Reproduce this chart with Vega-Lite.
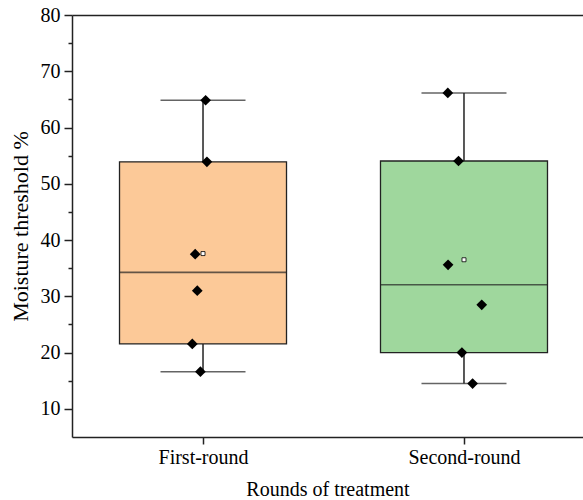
{
  "$schema": "https://vega.github.io/schema/vega-lite/v6.json",
  "width": 511,
  "height": 422,
  "autosize": {"type": "none"},
  "padding": {"left": 72, "top": 15, "right": 0, "bottom": 63},
  "config": {
    "view": {"stroke": null},
    "font": "Liberation Serif",
    "axis": {
      "domainColor": "#222222",
      "domainWidth": 1.5,
      "tickColor": "#222222",
      "tickWidth": 1.5,
      "labelColor": "black",
      "titleColor": "black",
      "labelFont": "Liberation Serif",
      "titleFont": "Liberation Serif",
      "labelFontSize": 20,
      "titleFontSize": 20,
      "titleFontWeight": "normal",
      "grid": false
    }
  },
  "resolve": {"axis": {"y": "independent"}},
  "datasets": {
    "stats": [
      {"round": "First-round", "min": 16.6, "q1": 21.55, "median": 34.25, "q3": 53.9, "max": 64.85, "mean": 37.6},
      {"round": "Second-round", "min": 14.5, "q1": 20.0, "median": 32.05, "q3": 54.05, "max": 66.15, "mean": 36.5}
    ],
    "points": [
      {"round": "First-round", "value": 64.85, "jitter": 0.01},
      {"round": "First-round", "value": 53.9, "jitter": 0.015},
      {"round": "First-round", "value": 37.5, "jitter": -0.03},
      {"round": "First-round", "value": 31.0, "jitter": -0.022},
      {"round": "First-round", "value": 21.55, "jitter": -0.041},
      {"round": "First-round", "value": 16.6, "jitter": -0.01},
      {"round": "Second-round", "value": 66.15, "jitter": -0.062},
      {"round": "Second-round", "value": 54.05, "jitter": -0.021},
      {"round": "Second-round", "value": 35.6, "jitter": -0.061},
      {"round": "Second-round", "value": 28.5, "jitter": 0.068},
      {"round": "Second-round", "value": 20.0, "jitter": -0.008},
      {"round": "Second-round", "value": 14.5, "jitter": 0.033}
    ]
  },
  "layer": [
    {
      "data": {"name": "stats"},
      "mark": {"type": "rule", "color": "#222222", "strokeWidth": 1.5},
      "encoding": {
        "x": {
          "field": "round", "type": "nominal",
          "scale": {"type": "point", "padding": 0.479, "align": 0.524},
          "axis": {
            "orient": "bottom",
            "title": "Rounds of treatment",
            "labelAngle": 0,
            "tickSize": 7,
            "labelPadding": 3,
            "titlePadding": 12
          }
        },
        "y": {
          "field": "min", "type": "quantitative",
          "scale": {"domain": [5, 80], "nice": false, "zero": false},
          "axis": {
            "orient": "left",
            "title": "Moisture threshold %",
            "titleFontSize": 22,
            "values": [10, 20, 30, 40, 50, 60, 70, 80],
            "tickSize": 8,
            "labelPadding": 4,
            "titlePadding": 8
          }
        },
        "y2": {"field": "max"}
      }
    },
    {
      "data": {"name": "stats"},
      "mark": {"type": "tick", "color": "#222222", "thickness": 1.5, "size": 85},
      "encoding": {
        "x": {"field": "round", "type": "nominal", "axis": {"orient": "top", "title": null, "labels": false, "ticks": false, "domain": true}},
        "y": {
          "field": "min", "type": "quantitative",
          "axis": {
            "orient": "left",
            "title": null,
            "labels": false,
            "domain": false,
            "values": [15, 25, 35, 45, 55, 65, 75],
            "tickSize": 4
          }
        }
      }
    },
    {
      "data": {"name": "stats"},
      "mark": {"type": "tick", "color": "#222222", "thickness": 1.5, "size": 85},
      "encoding": {
        "x": {"field": "round", "type": "nominal", "axis": null},
        "y": {"field": "max", "type": "quantitative", "axis": null}
      }
    },
    {
      "data": {"name": "stats"},
      "mark": {"type": "bar", "size": 167, "stroke": "#222222", "strokeWidth": 1.3},
      "encoding": {
        "x": {"field": "round", "type": "nominal", "axis": null},
        "y": {"field": "q1", "type": "quantitative", "axis": null},
        "y2": {"field": "q3"},
        "fill": {
          "field": "round", "type": "nominal",
          "scale": {"domain": ["First-round", "Second-round"], "range": ["#FCC998", "#9FD79D"]},
          "legend": null
        }
      }
    },
    {
      "data": {"name": "stats"},
      "mark": {"type": "tick", "color": "#222222", "thickness": 1.6, "size": 167},
      "encoding": {
        "x": {"field": "round", "type": "nominal", "axis": null},
        "y": {"field": "median", "type": "quantitative", "axis": null}
      }
    },
    {
      "data": {"name": "points"},
      "mark": {"type": "point", "shape": "diamond", "filled": true, "color": "black", "size": 115, "opacity": 1},
      "encoding": {
        "x": {"field": "round", "type": "nominal", "axis": null},
        "xOffset": {"field": "jitter", "type": "quantitative", "scale": {"domain": [-0.1, 0.1], "range": [-26.1, 26.1]}},
        "y": {"field": "value", "type": "quantitative", "axis": null}
      }
    },
    {
      "data": {"name": "stats"},
      "mark": {"type": "point", "shape": "square", "filled": true, "fill": "white", "stroke": "black", "strokeWidth": 0.8, "size": 16, "opacity": 1},
      "encoding": {
        "x": {"field": "round", "type": "nominal", "axis": null},
        "y": {"field": "mean", "type": "quantitative", "axis": null}
      }
    }
  ]
}
